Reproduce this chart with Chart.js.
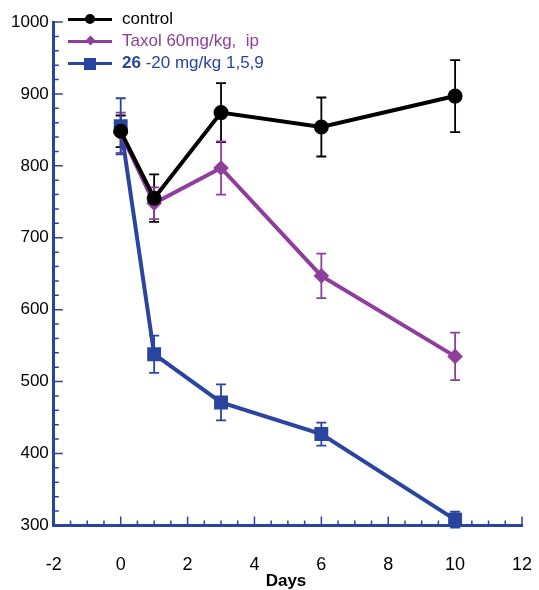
<!DOCTYPE html>
<html>
<head>
<meta charset="utf-8">
<script src="https://cdn.jsdelivr.net/npm/chart.js@4"></script>
<style>
  body { margin: 0; background: #fff; }
  #wrap { position: relative; width: 539px; height: 590px; }
  #legend { position: absolute; left: 68px; top: 8px; font-family: "Liberation Sans", Arial, sans-serif; font-size: 17px; }
  .row { position: relative; height: 22px; line-height: 22px; padding-left: 54px; white-space: nowrap; }
  .swatch { position: absolute; left: 0; top: 10px; width: 44px; height: 3px; }
  .mk { position: absolute; }
  #xtitle { position: absolute; left: 0; width: 539px; top: 571px; text-align: center; padding-left: 33px; box-sizing: border-box;
            font-family: "Liberation Sans", Arial, sans-serif; font-size: 17px; font-weight: bold; }
</style>
</head>
<body>
<div id="wrap">
  <canvas id="chart" width="539" height="590"></canvas>
  <div id="legend">
    <div class="row" style="color:#000">
      <span class="swatch" style="background:#000"></span>
      <span class="mk" style="left:17px;top:6px;width:10px;height:10px;border-radius:50%;background:#000"></span>
      control
    </div>
    <div class="row" style="color:#8e3f9c">
      <span class="swatch" style="background:#8e3f9c"></span>
      <span class="mk" style="left:19px;top:7px;width:7px;height:7px;transform:rotate(45deg);background:#8e3f9c"></span>
      Taxol 60mg/kg,&nbsp; ip
    </div>
    <div class="row" style="color:#2a44a0">
      <span class="swatch" style="background:#2a44a0"></span>
      <span class="mk" style="left:16px;top:6px;width:12px;height:12px;background:#2a44a0"></span>
      <b>26</b> -20 mg/kg 1,5,9
    </div>
  </div>
  <div id="xtitle">Days</div>
</div>
<script>
const days = [0, 1, 3, 6, 10];
const controlVals = [848, 755, 874, 854, 897];
const controlErr = [22, 33, 41, 41, 50];
const taxolVals = [846, 748, 797, 647, 535];
const taxolErr = [28, 22, 37, 31, 33];
const cmpVals = [855, 538, 471, 427, 308];
const cmpErr = [39, 26, 25, 16, 11];

const axisBlue = '#2a44a0';

function pts(vals) { return days.map((d, i) => ({ x: d, y: vals[i] })); }

const errorBars = {
    id: 'errorBars',
    beforeDatasetsDraw(chart) {
        const { ctx, scales: { x, y } } = chart;
        chart.data.datasets.forEach(ds => {
            ctx.save();
            ctx.strokeStyle = ds.borderColor;
            ctx.lineWidth = 1.8;
            ds.data.forEach((p, i) => {
                const px = x.getPixelForValue(p.x);
                const top = y.getPixelForValue(p.y + ds.err[i]);
                const bot = y.getPixelForValue(p.y - ds.err[i]);
                ctx.beginPath();
                ctx.moveTo(px, top); ctx.lineTo(px, bot);
                ctx.moveTo(px - 5, top); ctx.lineTo(px + 5, top);
                ctx.moveTo(px - 5, bot); ctx.lineTo(px + 5, bot);
                ctx.stroke();
            });
            ctx.restore();
        });
    }
};

// inward ticks like the original plot
const innerTicks = {
    id: 'innerTicks',
    afterDraw(chart) {
        const { ctx, scales: { x, y }, chartArea } = chart;
        ctx.save();
        ctx.strokeStyle = axisBlue;
        ctx.lineWidth = 1.5;
        ctx.beginPath();
        for (let v = 300; v <= 1000; v += 20) {
            const py = y.getPixelForValue(v);
            const len = v % 100 === 0 ? 9 : 5;
            ctx.moveTo(chartArea.left, py); ctx.lineTo(chartArea.left + len, py);
        }
        for (let v = -2; v <= 12; v += 0.5) {
            const px = x.getPixelForValue(v);
            const len = v % 2 === 0 ? 9 : 5;
            ctx.moveTo(px, chartArea.bottom); ctx.lineTo(px, chartArea.bottom - len);
        }
        ctx.stroke();
        ctx.restore();
    }
};

new Chart(document.getElementById('chart'), {
    type: 'line',
    data: {
        datasets: [
            { label: 'control', data: pts(controlVals), err: controlErr, borderColor: '#000', backgroundColor: '#000',
              borderWidth: 4, pointStyle: 'circle', pointRadius: 5.5 },
            { label: 'Taxol 60mg/kg, ip', data: pts(taxolVals), err: taxolErr, borderColor: '#8e3f9c', backgroundColor: '#8e3f9c',
              borderWidth: 4, pointStyle: 'rectRot', pointRadius: 5 },
            { label: '26 -20 mg/kg 1,5,9', data: pts(cmpVals), err: cmpErr, borderColor: axisBlue, backgroundColor: axisBlue,
              borderWidth: 4, pointStyle: 'rect', pointRadius: 7 }
        ]
    },
    options: {
        responsive: false,
        animation: false,
        layout: { padding: { left: 9, right: 17, top: 22, bottom: 12 } },
        plugins: { legend: { display: false }, tooltip: { enabled: false } },
        scales: {
            x: {
                type: 'linear', min: -2, max: 12,
                grid: { display: false, tickLength: 27 },
                border: { display: true, color: axisBlue, width: 3 },
                ticks: { stepSize: 2, color: '#000', padding: 2, font: { family: 'Liberation Sans', size: 18 } }
            },
            y: {
                min: 300, max: 1000,
                grid: { display: false, tickLength: 3 },
                border: { display: true, color: axisBlue, width: 3 },
                ticks: { stepSize: 100, color: '#000', padding: 2, font: { family: 'Liberation Sans', size: 17 },
                         callback: v => String(v) }
            }
        }
    },
    plugins: [errorBars, innerTicks]
});
</script>
</body>
</html>
